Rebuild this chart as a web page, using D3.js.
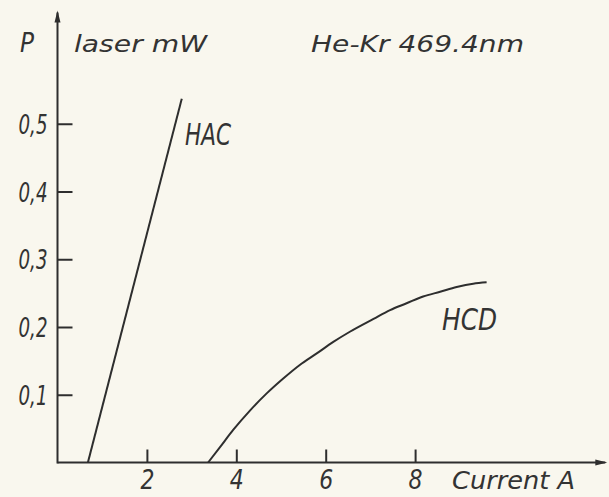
<!DOCTYPE html>
<html>
<head>
<meta charset="utf-8">
<script src="https://cdn.jsdelivr.net/npm/d3@7"></script>
<style>
  html, body { margin: 0; padding: 0; background: #f9f7ee; }
  svg { display: block; }
  text { font-family: "DejaVu Sans", sans-serif; font-style: italic; fill: #333; }
</style>
</head>
<body>
<svg id="chart" width="609" height="497"></svg>
<script>
// ---- data ----
const xTicks = [2, 4, 6, 8];
const xTickLabels = ["2", "4", "6", "8"];
const yTicks = [0.1, 0.2, 0.3, 0.4, 0.5];
const yTickLabels = ["0,1", "0,2", "0,3", "0,4", "0,5"];

// HAC: straight line (current A, power mW)
const hacCurrent = [0.68, 2.78];
const hacPower   = [0.0, 0.537];

// HCD: saturating curve
const hcdCurrent = [3.37, 3.64, 3.93, 4.31, 4.68, 5.05, 5.42, 5.80, 6.17, 6.54, 7.07, 7.44, 7.81, 8.18, 8.56, 8.93, 9.30, 9.60];
const hcdPower   = [0.0, 0.023, 0.048, 0.077, 0.102, 0.124, 0.144, 0.161, 0.178, 0.193, 0.212, 0.225, 0.235, 0.245, 0.252, 0.259, 0.264, 0.266];

const seriesLabels = ["HAC", "HCD"];
const yAxisTitle = "P";
const yUnitTitle = "laser mW";
const chartTitle = "He-Kr 469.4nm";
const xAxisTitle = "Current A";

// ---- layout ----
const ink = "#2e2e2e";
const svg = d3.select("#chart");
const x0 = 57.5, y0 = 462.5;
const x = d3.scaleLinear().domain([0, 12.3]).range([x0, x0 + 12.3 * 44.7]);
const y = d3.scaleLinear().domain([0, 0.667]).range([y0, y0 - 0.667 * 677.5]);

// helper for condensed hand-lettered text
function label(txt, px, py, size, len, anchor) {
  return svg.append("text")
    .attr("x", px).attr("y", py)
    .attr("font-size", size)
    .attr("text-anchor", anchor || "start")
    .attr("textLength", len)
    .attr("lengthAdjust", "spacingAndGlyphs")
    .attr("fill", ink)
    .text(txt);
}

// axes lines with arrows
svg.append("line").attr("x1", x(0)).attr("x2", x(12.3) - 2).attr("y1", y(0)).attr("y2", y(0))
  .attr("stroke", ink).attr("stroke-width", 2);
svg.append("path")
  .attr("d", `M${x(12.3)},${y(0)} L${x(12.3) - 12},${y(0) - 3} L${x(12.3) - 12},${y(0) + 3} Z`)
  .attr("fill", ink);
svg.append("line").attr("x1", x(0)).attr("x2", x(0)).attr("y1", y(0) + 1).attr("y2", y(0.667) + 2)
  .attr("stroke", ink).attr("stroke-width", 2);
svg.append("path")
  .attr("d", `M${x(0)},${y(0.667)} L${x(0) - 3},${y(0.667) + 12} L${x(0) + 3},${y(0.667) + 12} Z`)
  .attr("fill", ink);

// y axis ticks (inside)
const yAxis = d3.axisLeft(y).tickValues(yTicks).tickSizeInner(-15).tickSizeOuter(0)
  .tickPadding(10).tickFormat((d, i) => yTickLabels[i]);
const gy = svg.append("g").attr("transform", `translate(${x0},0)`).call(yAxis);
gy.select(".domain").remove();
gy.selectAll(".tick line").attr("stroke", ink).attr("stroke-width", 2);
gy.selectAll(".tick text")
  .attr("font-size", 27).attr("font-family", "DejaVu Sans, sans-serif").attr("font-style", "italic")
  .attr("fill", ink).attr("dy", "0.36em")
  .attr("textLength", 29).attr("lengthAdjust", "spacingAndGlyphs");

// x axis ticks (inside)
const xAxis = d3.axisBottom(x).tickValues(xTicks).tickSizeInner(-13).tickSizeOuter(0)
  .tickPadding(16).tickFormat((d, i) => xTickLabels[i]);
const gx = svg.append("g").attr("transform", `translate(0,${y0})`).call(xAxis);
gx.select(".domain").remove();
gx.selectAll(".tick line").attr("stroke", ink).attr("stroke-width", 2);
gx.selectAll(".tick text")
  .attr("font-size", 26).attr("font-family", "DejaVu Sans, sans-serif").attr("font-style", "italic")
  .attr("fill", ink).attr("dy", "0.42em")
  .attr("textLength", 14).attr("lengthAdjust", "spacingAndGlyphs");

// series
const line = d3.line().x(d => x(d[0])).y(d => y(d[1]));
svg.append("path")
  .datum(hacCurrent.map((c, i) => [c, hacPower[i]]))
  .attr("d", line).attr("fill", "none").attr("stroke", ink).attr("stroke-width", 2);
svg.append("path")
  .datum(hcdCurrent.map((c, i) => [c, hcdPower[i]]))
  .attr("d", line.curve(d3.curveMonotoneX)).attr("fill", "none").attr("stroke", ink).attr("stroke-width", 2);

// labels
label(seriesLabels[0], 185, 145, 30, 46);
label(seriesLabels[1], 442, 330, 31, 55);
label(yAxisTitle, 20, 52, 26, 14);
label(yUnitTitle, 74, 52, 23, 133);
label(chartTitle, 311, 52, 23, 213);
label(xAxisTitle, 452, 489, 25, 123);
</script>
</body>
</html>
